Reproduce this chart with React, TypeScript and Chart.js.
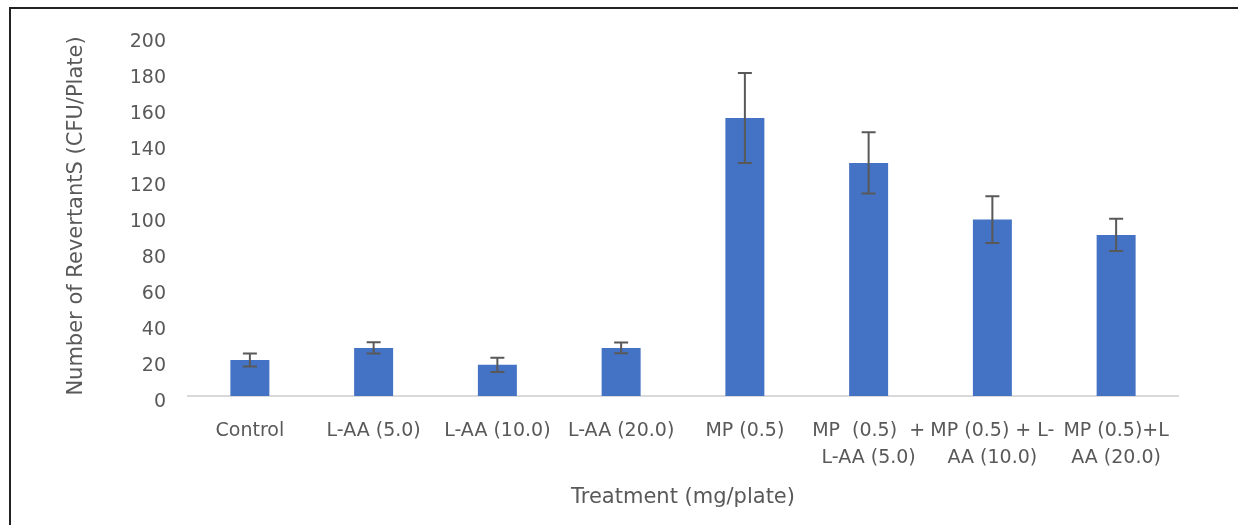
import React, { useEffect, useRef } from "react";
import { Chart, registerables } from "chart.js";

Chart.register(...registerables);

const categories: (string | string[])[] = [
  "Control",
  "L-AA (5.0)",
  "L-AA (10.0)",
  "L-AA (20.0)",
  "MP (0.5)",
  ["MP  (0.5)  +", "L-AA (5.0)"],
  ["MP (0.5) + L-", "AA (10.0)"],
  ["MP (0.5)+L", "AA (20.0)"],
];

const revertants: number[] = [20, 26.7, 17.3, 26.7, 154.5, 129.5, 98, 89.5];
const errors: number[] = [3.6, 3.1, 3.9, 3, 25, 17, 13, 9];

const yTicks: number[] = [0, 20, 40, 60, 80, 100, 120, 140, 160, 180, 200];

const FONT = "DejaVu Sans";
const TEXT = "#595959";

const errorBarPlugin = {
  id: "errorBars",
  afterDatasetsDraw(chart: any) {
    const ctx = chart.ctx;
    const meta = chart.getDatasetMeta(0);
    const yScale = chart.scales.y;
    ctx.save();
    ctx.strokeStyle = "#595959";
    ctx.lineWidth = 2;
    meta.data.forEach((bar: any, i: number) => {
      const v = revertants[i];
      const e = errors[i];
      const x = bar.x;
      const yt = yScale.getPixelForValue(v + e);
      const yb = yScale.getPixelForValue(v - e);
      const half = 7;
      ctx.beginPath();
      ctx.moveTo(x, yt);
      ctx.lineTo(x, yb);
      ctx.moveTo(x - half, yt);
      ctx.lineTo(x + half, yt);
      ctx.moveTo(x - half, yb);
      ctx.lineTo(x + half, yb);
      ctx.stroke();
    });
    ctx.restore();
  },
};

export default function App() {
  const ref = useRef<HTMLCanvasElement | null>(null);

  useEffect(() => {
    if (!ref.current) return;
    const chart = new Chart(ref.current, {
      type: "bar",
      data: {
        labels: categories as any,
        datasets: [
          {
            data: revertants,
            backgroundColor: "#4472C4",
            borderWidth: 0,
            categoryPercentage: 1,
            barPercentage: 0.315,
          },
        ],
      },
      options: {
        animation: false,
        responsive: false,
        maintainAspectRatio: false,
        layout: { padding: { top: 36, right: 60, bottom: 0, left: 0 } },
        plugins: {
          legend: { display: false },
          tooltip: { enabled: false },
        },
        scales: {
          x: {
            grid: { display: false, drawTicks: false },
            border: { display: true, color: "#d9d9d9", width: 2 },
            ticks: {
              autoSkip: false,
              maxRotation: 0,
              minRotation: 0,
              padding: 22,
              color: TEXT,
              font: { family: FONT, size: 19, lineHeight: 1.42 },
            },
            title: {
              display: true,
              text: "Treatment (mg/plate)",
              color: TEXT,
              font: { family: FONT, size: 21, lineHeight: 1.2 },
              padding: { top: 0, bottom: 15 },
            },
            afterFit(scale: any) {
              scale.height = 129;
            },
          },
          y: {
            min: 0,
            max: 200,
            afterBuildTicks(scale: any) {
              scale.ticks = yTicks.map((v) => ({ value: v }));
            },
            grid: { display: false, drawTicks: false },
            border: { display: false },
            ticks: {
              padding: 22,
              labelOffset: 6,
              color: TEXT,
              font: { family: FONT, size: 19 },
            },
            title: {
              display: true,
              text: "Number of RevertantS (CFU/Plate)",
              color: TEXT,
              font: { family: FONT, size: 21, lineHeight: 1.2 },
              padding: { top: 64, bottom: 0 },
            },
            afterFit(scale: any) {
              scale.width = 188;
            },
          },
        },
      },
      plugins: [errorBarPlugin],
    });
    return () => chart.destroy();
  }, []);

  return (
    <>
      <canvas
        ref={ref}
        width={1238}
        height={525}
        style={{ position: "fixed", left: 0, top: 0, width: 1238, height: 525, background: "#fff" }}
      />
      <div
        style={{
          position: "fixed",
          left: 9,
          top: 7,
          width: 1238,
          height: 525,
          borderTop: "2px solid #222",
          borderLeft: "2px solid #222",
          boxSizing: "border-box",
          pointerEvents: "none",
        }}
      />
    </>
  );
}
